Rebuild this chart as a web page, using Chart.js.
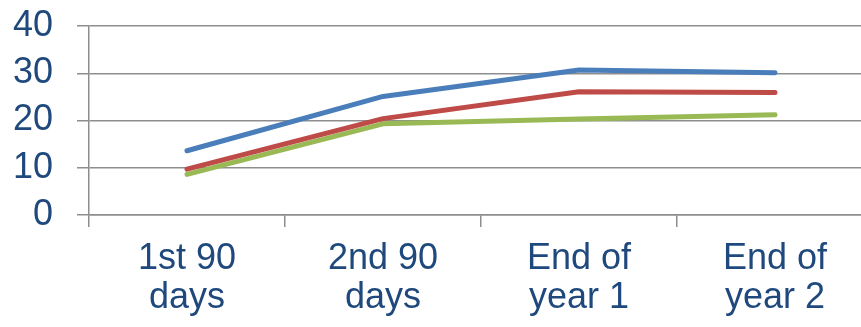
<!DOCTYPE html>
<html>
<head>
<meta charset="utf-8">
<script src="https://cdn.jsdelivr.net/npm/chart.js@4/dist/chart.umd.min.js"></script>
<style>
  html, body { margin: 0; padding: 0; background: #fff; overflow: hidden; }
  #wrap { width: 861px; height: 327px; overflow: hidden; position: relative; }
  canvas { display: block; }
</style>
</head>
<body>
<div id="wrap"><canvas id="chart" width="873" height="327"></canvas></div>
<script>
// Milestones along the x axis (two-line labels)
const categories = [
  ['1st 90', 'days'],
  ['2nd 90', 'days'],
  ['End of', 'year 1'],
  ['End of', 'year 2']
];

// Series values per milestone
const blueSeries  = [13.6, 25.1, 30.7, 30.1];
const redSeries   = [9.7, 20.4, 26.1, 25.9];
const greenSeries = [8.6, 19.3, 20.3, 21.2];

// Y axis range and step
const yMin = 0;
const yMax = 40;
const yStep = 10;

const gridColor = '#8E8E8E';
const textColor = '#1F497D';
const labelFont = { family: '"Liberation Sans", Arial, sans-serif', size: 36, lineHeight: 1.08 };

new Chart(document.getElementById('chart'), {
  type: 'line',
  data: {
    labels: categories,
    datasets: [
      { data: blueSeries,  borderColor: '#4A7EBB' },
      { data: redSeries,   borderColor: '#BE4B48' },
      { data: greenSeries, borderColor: '#98B954' }
    ].map(d => Object.assign(d, {
      borderWidth: 5,
      tension: 0,
      pointRadius: 0,
      pointHoverRadius: 0,
      fill: false,
      borderCapStyle: 'round',
      borderJoinStyle: 'round'
    }))
  },
  options: {
    responsive: false,
    animation: false,
    devicePixelRatio: 1,
    layout: { padding: { top: 26, right: 0, bottom: 0, left: 0 } },
    plugins: {
      legend: { display: false },
      tooltip: { enabled: false },
      title: { display: false }
    },
    scales: {
      x: {
        offset: true,
        grid: {
          offset: true,
          drawOnChartArea: false,
          drawTicks: true,
          tickLength: 12,
          color: gridColor,
          lineWidth: 1.5
        },
        border: { display: true, color: gridColor, width: 1.5 },
        ticks: {
          color: textColor,
          font: labelFont,
          padding: 13,
          maxRotation: 0,
          autoSkip: false
        },
        afterFit(scale) {
          scale.height = 112;
          scale.paddingLeft = 0;
          scale.paddingRight = 0;
        }
      },
      y: {
        min: yMin,
        max: yMax,
        grid: {
          drawTicks: true,
          tickLength: 12,
          color: gridColor,
          lineWidth: 1.5
        },
        border: { display: true, color: gridColor, width: 1.5 },
        ticks: {
          stepSize: yStep,
          color: textColor,
          font: labelFont,
          padding: 24
        },
        afterFit(scale) {
          scale.width = 89;
          scale.paddingTop = 0;
          scale.paddingBottom = 0;
        }
      }
    }
  }
});
</script>
</body>
</html>
